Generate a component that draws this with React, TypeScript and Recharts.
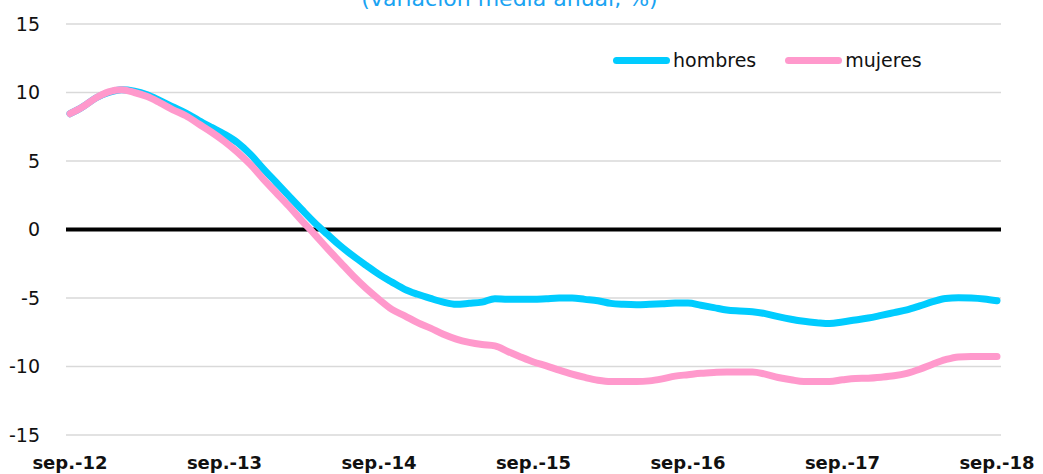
import React from 'react';
import { LineChart, Line, XAxis, YAxis, CartesianGrid, ReferenceLine } from 'recharts';

const tickLabels = ['sep.-12', 'sep.-13', 'sep.-14', 'sep.-15', 'sep.-16', 'sep.-17', 'sep.-18'];
const yTicks = [-15, -10, -5, 0, 5, 10, 15];

const hombres = [
  8.45, 8.96, 9.6, 10.0, 10.2, 10.1, 9.83, 9.4, 8.95, 8.5, 7.96, 7.45,
  6.95, 6.35, 5.5, 4.45, 3.45, 2.45, 1.46, 0.5, -0.36, -1.2, -1.94, -2.62,
  -3.28, -3.84, -4.37, -4.73, -5.03, -5.3, -5.46, -5.39, -5.3, -5.05, -5.1, -5.1,
  -5.1, -5.05, -5.0, -5.0, -5.1, -5.2, -5.39, -5.46, -5.49, -5.46, -5.42, -5.37,
  -5.37, -5.53, -5.7, -5.88, -5.95, -6.0, -6.14, -6.36, -6.55, -6.7, -6.8, -6.87,
  -6.75, -6.6, -6.46, -6.27, -6.07, -5.87, -5.58, -5.27, -5.03, -4.98, -5.0, -5.07,
  -5.2,
];

const mujeres = [
  8.45, 8.96, 9.6, 10.05, 10.2, 10.0, 9.7, 9.24, 8.74, 8.3, 7.7, 7.1,
  6.43, 5.65, 4.75, 3.7, 2.7, 1.7, 0.65, -0.35, -1.4, -2.4, -3.4, -4.3,
  -5.1, -5.83, -6.3, -6.8, -7.2, -7.65, -8.0, -8.24, -8.4, -8.5, -8.9, -9.3,
  -9.67, -9.95, -10.27, -10.56, -10.8, -11.0, -11.1, -11.1, -11.1, -11.05, -10.9, -10.7,
  -10.6, -10.5, -10.44, -10.4, -10.4, -10.4, -10.56, -10.8, -10.97, -11.1, -11.1, -11.1,
  -10.97, -10.87, -10.85, -10.78, -10.68, -10.5, -10.2, -9.83, -9.5, -9.3, -9.27, -9.27,
  -9.27,
];

const data = hombres.map((h, i) => ({ m: i, hombres: h, mujeres: mujeres[i] }));
const xTicks = tickLabels.map((_, i) => i * 12);

const FONT = '"DejaVu Sans", Verdana, sans-serif';
const BLUE = '#00CCFF';
const PINK = '#FF99CC';

export default function App() {
  return (
    <div style={{ position: 'absolute', left: 0, top: 0, width: 1043, height: 474, background: '#fff', overflow: 'hidden' }}>
      <div
        style={{
          position: 'absolute',
          left: 0,
          width: 1043,
          top: -14,
          textAlign: 'center',
          fontFamily: FONT,
          fontSize: 22,
          color: '#1AA3F2',
        }}
      >
        <span style={{ position: 'relative', left: -12 }}>(variación media anual, %)</span>
      </div>
      <div
        style={{
          position: 'absolute',
          top: 49,
          left: 613,
          display: 'flex',
          alignItems: 'center',
          fontFamily: FONT,
          fontSize: 19,
          color: '#111',
          zIndex: 2,
        }}
      >
        <span style={{ display: 'inline-block', width: 57, height: 7, borderRadius: 4, background: BLUE }} />
        <span style={{ marginLeft: 3, marginRight: 29 }}>hombres</span>
        <span style={{ display: 'inline-block', width: 57, height: 7, borderRadius: 4, background: PINK }} />
        <span style={{ marginLeft: 3 }}>mujeres</span>
      </div>
      <LineChart width={1043} height={474} data={data} margin={{ top: 24, right: 42, bottom: 0, left: 0 }}>
        <CartesianGrid horizontal vertical={false} stroke="#D9D9D9" strokeWidth={1.5} />
        <XAxis
          dataKey="m"
          type="number"
          domain={[0, 72]}
          ticks={xTicks}
          tickFormatter={(v: number) => tickLabels[Math.round(v / 12)]}
          padding={{ left: 4, right: 4 }}
          axisLine={false}
          tickLine={false}
          tickMargin={15}
          interval={0}
          height={39}
          tick={{ fontFamily: FONT, fontSize: 18, fontWeight: 'bold', fill: '#111' }}
        />
        <YAxis
          domain={[-15, 15]}
          ticks={yTicks}
          width={66}
          axisLine={false}
          tickLine={false}
          tickMargin={20}
          interval={0}
          tick={{ fontFamily: FONT, fontSize: 19, fill: '#111' }}
        />
        <ReferenceLine y={0} stroke="#000" strokeWidth={4} />
        <Line
          type="monotone"
          dataKey="hombres"
          stroke={BLUE}
          strokeWidth={7}
          dot={false}
          strokeLinecap="round"
          isAnimationActive={false}
        />
        <Line
          type="monotone"
          dataKey="mujeres"
          stroke={PINK}
          strokeWidth={7}
          dot={false}
          strokeLinecap="round"
          isAnimationActive={false}
        />
      </LineChart>
    </div>
  );
}
